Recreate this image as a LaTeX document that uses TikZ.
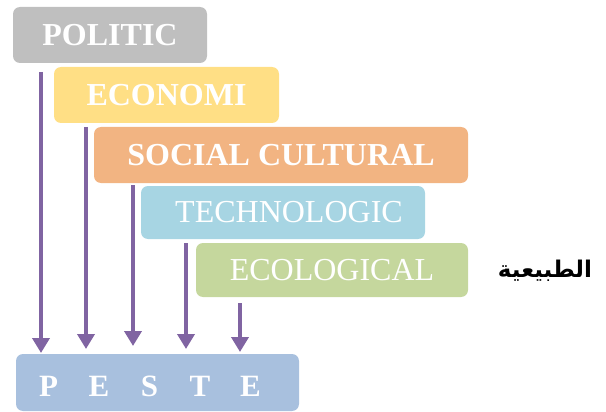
\documentclass[tikz,border=0pt]{standalone}
\usepackage{fontspec}
\setmainfont{Liberation Serif}
\newfontfamily\arabicfont[Script=Arabic]{DejaVu Sans}
\TeXXeTstate=1
\usetikzlibrary{arrows.meta}
\definecolor{cgray}{HTML}{BFBFBF}
\definecolor{cyellow}{HTML}{FFDF85}
\definecolor{corange}{HTML}{F2B482}
\definecolor{cblue}{HTML}{A7D5E3}
\definecolor{cgreen}{HTML}{C5D79D}
\definecolor{cpeste}{HTML}{A8C0DE}
\definecolor{cpurple}{HTML}{8064A2}
\tikzset{
  card/.style={rounded corners=7pt, inner sep=0pt, text=white, font=\fontsize{32}{36}\selectfont},
  boldcard/.style={card, font=\fontsize{32}{36}\selectfont\bfseries},
  arr/.style={draw=cpurple, line width=4pt, -{Triangle[width=17pt 0 0,length=15pt 0 0]}}
}
\begin{document}
\begin{tikzpicture}[x=1pt,y=-1pt]
\useasboundingbox (0,0) rectangle (606,412);
\node[boldcard, fill=cgray, minimum width=194pt, minimum height=56pt] (pol) at (110,35) {POLITIC};
\node[boldcard, fill=cyellow, minimum width=225pt, minimum height=56pt] (eco) at (166.5,95) {ECONOMI};
\node[boldcard, fill=corange, minimum width=374pt, minimum height=56pt] (soc) at (281,155) {SOCIAL CULTURAL};
\node[card, fill=cblue, minimum width=284pt, minimum height=53pt, text width=284pt, align=center] (tec) at (283,212.5) {\hspace*{12pt}TECHNOLOGIC};
\node[card, fill=cgreen, minimum width=272pt, minimum height=54pt] (ecl) at (332,270) {ECOLOGICAL};
\node[font=\arabicfont\bfseries\fontsize{23}{26}\selectfont] (ar) at (545,271) {\beginR الطبيعية\endR};
\node[rounded corners=7pt, fill=cpeste, minimum width=283pt, minimum height=57pt] (peste) at (157.5,382.5) {};
\node[text=white, font=\fontsize{31}{34}\selectfont\bfseries, inner sep=0pt] (pestetext) at (149.5,386)
  {\makebox[50.5pt]{P}\makebox[50.5pt]{E}\makebox[50.5pt]{S}\makebox[50.5pt]{T}\makebox[50.5pt]{E}};
\coordinate (s1) at (41,72);
\coordinate (s2) at (86,127);
\coordinate (s3) at (133,185);
\coordinate (s4) at (186,243);
\coordinate (s5) at (240,303);
\draw[arr] (s1) -- (s1 |- 0,353);
\draw[arr] (s2) -- (s2 |- 0,349);
\draw[arr] (s3) -- (s3 |- 0,346);
\draw[arr] (s4) -- (s4 |- 0,349);
\draw[arr] (s5) -- (s5 |- 0,352);
\end{tikzpicture}
\end{document}
